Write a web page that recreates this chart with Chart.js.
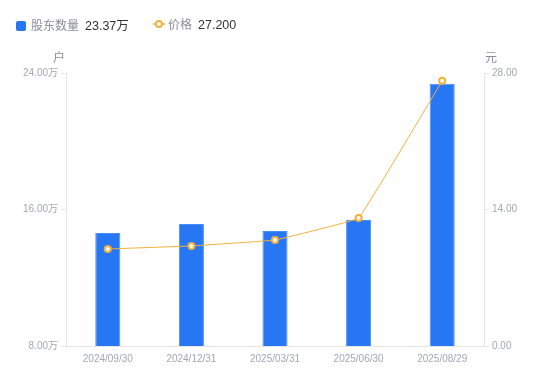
<!DOCTYPE html>
<html><head><meta charset="utf-8">
<script src="https://cdn.jsdelivr.net/npm/chart.js@4/dist/chart.umd.min.js"></script>
<style>
html,body{margin:0;padding:0;background:#fff;}
#wrap{position:relative;width:550px;height:381px;font-family:"Liberation Sans","Noto Sans CJK SC",sans-serif;}
canvas{position:absolute;left:0;top:0;}
.lg{position:absolute;top:15px;font-size:12px;color:#8a8e99;white-space:nowrap;}
.lg b{font-weight:normal;color:#333;margin-left:6px;font-size:12.5px;}
.sq{display:inline-block;width:10px;height:10px;background:#2777F4;border-radius:2px;vertical-align:-1px;margin-right:5px;}
.unit{position:absolute;top:48px;font-size:12px;color:#8a8e99;}
</style></head>
<body><div id="wrap">
<canvas id="c" width="550" height="381"></canvas>
<div class="lg" style="left:16px"><span class="sq"></span>股东数量<b id="v1"></b></div>
<div class="lg" style="left:153px"><svg width="12" height="10" style="vertical-align:0;margin-right:3px"><line x1="0" y1="5" x2="12" y2="5" stroke="#F5B03A" stroke-width="1.5"/><circle cx="6" cy="5" r="3" fill="#fff" stroke="#F5B03A" stroke-width="2"/></svg>价格<b id="v2"></b></div>
<div class="unit" style="left:53px">户</div>
<div class="unit" style="left:485px">元</div>
</div>
<script>
const categories = ["2024/09/30","2024/12/31","2025/03/31","2025/06/30","2025/08/29"];
const holders = [14.62, 15.15, 14.74, 15.39, 23.37];
const prices = [9.95, 10.26, 10.87, 13.13, 27.20];
const leftTicks = [8, 16, 24];
const rightTicks = [0, 14, 28];

document.getElementById('v1').textContent = holders[holders.length-1].toFixed(2) + '万';
document.getElementById('v2').textContent = prices[prices.length-1].toFixed(3);

const tickColor = '#a3a7b3';
const lineColor = '#e6e6e6';
const font = {family:'"Liberation Sans","Noto Sans CJK SC",sans-serif', size:10};

new Chart(document.getElementById('c'), {
  data: {
    labels: categories,
    datasets: [
      {type:'line', data: prices, yAxisID:'y1', borderColor:'#F5B03A', borderWidth:1,
       pointRadius:3, pointBorderWidth:2, pointBackgroundColor:'#fff', pointBorderColor:'#F5B03A',
       tension:0.05, order:0},
      {type:'bar', data: holders, yAxisID:'y', backgroundColor:'#2777F4', borderColor:'#4a8df7', borderWidth:{left:1,right:1,top:1,bottom:0},
       barPercentage:0.3, categoryPercentage:1, order:1}
    ]
  },
  options: {
    responsive:false, animation:false,
    layout:{padding:{top:73,left:0,right:0,bottom:0}},
    plugins:{legend:{display:false}, tooltip:{enabled:false}},
    scales:{
      x:{grid:{display:true, drawOnChartArea:false, drawTicks:false, color:lineColor},
         border:{color:lineColor},
         ticks:{color:tickColor, font, padding:7, maxRotation:0},
         afterFit(s){s.height=35;}},
      y:{position:'left', min:8, max:24,
         afterBuildTicks(s){s.ticks = leftTicks.map(v=>({value:v}));},
         grid:{drawOnChartArea:false, drawTicks:true, tickLength:5, color:lineColor},
         border:{color:lineColor},
         ticks:{color:tickColor, font, padding:3, callback:v=>v.toFixed(2)+'万'},
         afterFit(s){s.width=66;}},
      y1:{position:'right', min:0, max:28,
         afterBuildTicks(s){s.ticks = rightTicks.map(v=>({value:v}));},
         grid:{drawOnChartArea:false, drawTicks:true, tickLength:5, color:lineColor},
         border:{color:lineColor},
         ticks:{color:tickColor, font, padding:3, callback:v=>v.toFixed(2)},
         afterFit(s){s.width=66;}}
    }
  }
});
</script>
</body></html>
